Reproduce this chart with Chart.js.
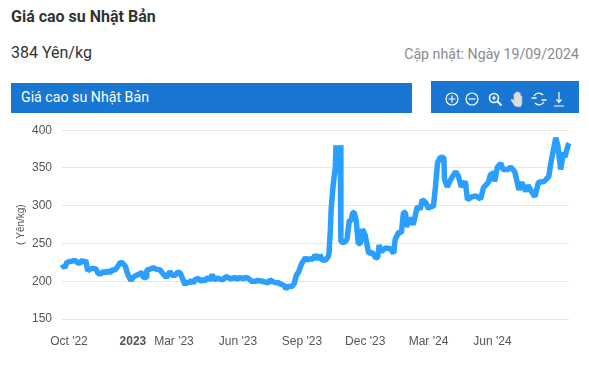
<!DOCTYPE html>
<html>
<head>
<meta charset="utf-8">
<title>Giá cao su Nhật Bản</title>
<script src="https://cdn.jsdelivr.net/npm/chart.js@4"></script>
<style>
    html, body { margin: 0; padding: 0; background: #fff; }
    body { width: 589px; height: 369px; position: relative; overflow: hidden; font-family: Roboto, sans-serif; }
    .title { position: absolute; left: 11px; top: 7px; font-size: 16px; font-weight: 700; color: #333; }
    .price { position: absolute; left: 11px; top: 43px; font-size: 16px; color: #333; }
    .updated { position: absolute; right: 10px; top: 46px; font-size: 14.2px; color: #8a8a8a; }
    .bar { position: absolute; left: 11px; top: 83px; width: 401px; height: 30px; background: #1976d2; color: #fff; font-size: 14.2px; line-height: 28px; text-indent: 10px; }
    .tools { position: absolute; left: 431px; top: 81px; width: 148px; height: 32px; background: #1976d2; }
    .tools svg { position: absolute; left: 0; top: 0; }
    .chart-box { position: absolute; left: 0; top: 113px; width: 589px; height: 252px; }
</style>
</head>
<body>
<div class="title">Giá cao su Nhật Bản</div>
<div class="price">384 Yên/kg</div>
<div class="updated">Cập nhật: Ngày 19/09/2024</div>
<div class="bar">Giá cao su Nhật Bản</div>
<div class="tools">
    <svg width="148" height="32" fill="none" stroke="#fff" stroke-width="1.2">
        <circle cx="21" cy="18" r="6"/><path d="M17.5 18h7M21 14.5v7"/>
        <circle cx="41" cy="18" r="6"/><path d="M37.5 18h7"/>
        <circle cx="63" cy="17" r="4.5" stroke-width="1.6"/><path d="M61 17h4M63 15v4"/><path d="M66.5 20.5l4 4" stroke-width="2"/>
        <path d="M84 25l-4-6 1-1 2 2v-7h1.500v5-6.500h1.600v6.500-7h1.600v7-6h1.600v7-4h1.500v8l-1.500 3z" fill="#ddd" stroke="#ddd" stroke-width=".6"/>
        <path d="M103 15a5.500 5.500 0 0 1 9-1M113 21a5.500 5.500 0 0 1-9 1"/><path d="M100.500 17h5M110.500 19h5" stroke-width="1.600"/>
        <path d="M128 11v10M125.500 18.500l2.500 3 2.500-3M123 25h10"/>
    </svg>
</div>
<div class="chart-box"><canvas id="chart"></canvas></div>
<script>
// dias contados desde 2022-10-01
const days = [-10,-9,-6,-3,1,6,10,13,16,19,22,24,27,30,35,39,42,46,50,53,56,59,62,66,69,73,76,81,84,86,89,92,95,102,105,107,111,112,117,121,125,131,135,140,143,145,148,153,156,160,164,167,170,173,176,179,181,186,189,193,197,200,203,206,209,213,217,222,225,229,233,238,242,246,251,253,258,262,268,272,278,282,287,289,292,297,301,305,310,312,315,320,324,327,330,335,340,343,347,351,354,359,361,364,369,373,374,376,377,380,383,384,386,387,389,390,391,395,399,400,403,406,408,410,413,416,419,422,426,431,436,441,444,446,449,455,462,467,469,474,478,481,484,485,491,495,501,505,508,513,517,520,524,527,530,534,539,540,544,549,556,560,564,570,573,580,585,592,596,603,606,611,612,616,621,624,631,635,641,647,651,657,660,665,670,675,683,690,693,700,703,707,711,713,718,719];
const prices = [219,221,218,225,226,227,227,224,224,228,225,228,214,216,217,216,210,210,213,211,214,211,215,215,218,224,225,220,211,206,201,205,207,210,212,205,205,215,216,218,216,215,210,205,209,213,208,208,212,211,202,195,200,197,202,197,202,204,200,202,201,206,201,209,202,204,203,202,206,205,203,205,203,205,203,205,204,200,200,201,200,199,198,202,200,198,198,196,194,190,193,193,197,208,212,224,231,228,230,229,235,229,235,228,228,233,238,270,295,328,350,380,350,380,352,380,253,251,254,257,280,281,291,291,281,250,250,269,261,237,238,231,232,248,239,244,243,237,255,265,264,291,291,272,284,275,299,295,308,304,296,299,299,325,357,364,364,335,325,335,345,339,325,332,308,312,313,309,324,331,341,344,332,351,356,348,348,351,345,321,331,319,327,319,312,331,332,339,357,390,379,348,371,364,381,383];

const tickDays = [0, 92, 151, 243, 335, 426, 517, 609];
const tickLabels = ["Oct '22", "2023", "Mar '23", "Jun '23", "Sep '23", "Dec '23", "Mar '24", "Jun '24"];
const yTicks = [150, 200, 250, 300, 350, 400];

const ctx = document.getElementById('chart').getContext('2d');
new Chart(ctx, {
    type: 'line',
    data: {
        datasets: [{
            data: days.map((d, i) => ({ x: d, y: prices[i] })),
            borderColor: '#2b9fff',
            borderWidth: 5.5,
            borderJoinStyle: 'bevel',
            pointRadius: 0,
            tension: 0,
            clip: false
        }]
    },
    options: {
        responsive: true,
        maintainAspectRatio: false,
        animation: false,
        layout: { padding: { top: 11, right: 20 } },
        plugins: { legend: { display: false }, tooltip: { enabled: false } },
        scales: {
            x: {
                type: 'linear',
                min: -10,
                max: 719,
                afterFit: scale => { scale.height = 46; },
                afterBuildTicks: scale => { scale.ticks = tickDays.map(v => ({ value: v })); },
                grid: { display: false },
                border: { display: false },
                ticks: {
                    autoSkip: false,
                    maxRotation: 0,
                    padding: 7,
                    color: '#555',
                    callback: (v) => tickLabels[tickDays.indexOf(v)],
                    font: c => ({ family: 'Liberation Sans', size: 12, weight: tickLabels[c.index] === '2023' ? 'bold' : 'normal' })
                }
            },
            y: {
                min: 150,
                max: 400,
                afterFit: scale => { scale.width = 62; },
                afterBuildTicks: scale => { scale.ticks = yTicks.map(v => ({ value: v })); },
                grid: { color: '#e6e6e6', drawTicks: false },
                border: { display: false },
                title: {
                    display: true,
                    text: '( Yên/kg)',
                    color: '#555',
                    font: { family: 'Liberation Sans', size: 10 },
                    padding: { top: 15, bottom: 0 }
                },
                ticks: {
                    padding: 10,
                    color: '#555',
                    font: { family: 'Liberation Sans', size: 12 }
                }
            }
        }
    }
});
</script>
</body>
</html>
